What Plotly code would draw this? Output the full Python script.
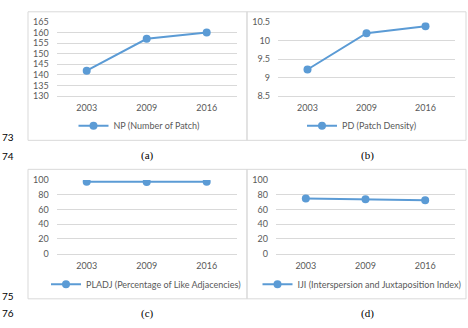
import plotly.graph_objects as go

W, H = 468, 328
years = ["2003", "2009", "2016"]
np_values = [142, 157, 160]
pd_values = [9.22, 10.2, 10.39]
pladj_values = [97.5, 97.4, 97.5]
iji_values = [74.7, 73.8, 72.6]

series_names = ["NP (Number of Patch)", "PD (Patch Density)",
                "PLADJ (Percentage of Like Adjacencies)",
                "IJI (Interspersion and Juxtaposition Index)"]
panel_labels = ["(a)", "(b)", "(c)", "(d)"]
line_numbers = ["73", "74", "75", "76"]

BLUE = "#5B9BD5"
GRID = "#D9D9D9"
TXT = "#595959"
FONT = "Lato, Liberation Sans, sans-serif"

def px(x):
    return x / W

def py(y):
    return 1 - y / H

fig = go.Figure()

panels = [
    (np_values, (56.7, 236.7), (93.3, 16.3), [130, 165], 5, (139, 124)),
    (pd_values, (278, 455), (93.3, 16.7), [8.5, 10.5], 0.5, (362, 124)),
    (pladj_values, (56.7, 236.7), (256.3, 180), [0, 100], 20, (146, 288)),
    (iji_values, (276, 455), (256.3, 180), [0, 100], 20, (362, 288)),
]

layout = {}
for i, (vals, xd, yd, yr, dt, lg) in enumerate(panels):
    n = i + 1
    xa = "x" if n == 1 else f"x{n}"
    ya = "y" if n == 1 else f"y{n}"
    lgname = "legend" if n == 1 else f"legend{n}"
    fig.add_trace(go.Scatter(
        x=years, y=vals, mode="lines+markers", name=series_names[i],
        xaxis=xa, yaxis=ya, legend=lgname,
        line=dict(color=BLUE, width=2),
        marker=dict(color=BLUE, size=8, symbol="circle"),
    ))
    layout[f"xaxis{'' if n == 1 else n}"] = dict(
        domain=[px(xd[0]), px(xd[1])], anchor=ya, type="category",
        range=[-0.5, 2.5], showgrid=False, showline=True, linecolor=GRID,
        linewidth=1, ticks="", tickfont=dict(family=FONT, size=9, color=TXT),
        ticklabelstandoff=3, zeroline=False, fixedrange=True,
    )
    layout[f"yaxis{'' if n == 1 else n}"] = dict(
        domain=[py(yd[0]), py(yd[1])], anchor=xa, range=yr, dtick=dt,
        showgrid=True, gridcolor=GRID, gridwidth=1, zeroline=False,
        showline=False, ticks="", tickfont=dict(family=FONT, size=9, color=TXT),
        ticklabelstandoff=7, fixedrange=True,
    )
    layout[lgname] = dict(
        x=px(lg[0]), y=py(lg[1]), xanchor="center", yanchor="middle",
        orientation="h", bgcolor="rgba(0,0,0,0)", itemwidth=30,
        font=dict(family=FONT, size=9, color=TXT),
    )

boxes = [(28, 6, 247, 139), (247, 6, 466, 139), (28, 169, 247, 303), (247, 169, 466, 303)]
shapes = []
for x0, y0, x1, y1 in boxes:
    shapes.append(dict(type="rect", xref="paper", yref="paper",
                       x0=px(x0), x1=px(x1), y0=py(y1), y1=py(y0),
                       line=dict(color=GRID, width=1), fillcolor="rgba(0,0,0,0)"))

annotations = []
for lab, (x, y) in zip(panel_labels, [(147.7, 155), (367, 155), (147.7, 318), (367, 318)]):
    annotations.append(dict(text=lab, x=px(x), y=py(y), xref="paper", yref="paper",
                            showarrow=False, xanchor="center", yanchor="middle",
                            font=dict(family="Liberation Serif, serif", size=11, color="#000")))
for lab, y in zip(line_numbers, [136, 155, 300, 318]):
    annotations.append(dict(text=lab, x=0, y=py(y), xref="paper", yref="paper",
                            showarrow=False, xanchor="left", yanchor="middle",
                            font=dict(family=FONT, size=10, color="#000")))

fig.update_layout(
    width=W, height=H, margin=dict(l=0, r=0, t=0, b=0),
    paper_bgcolor="white", plot_bgcolor="white",
    shapes=shapes, annotations=annotations, showlegend=True,
    **layout,
)

fig.write_html("out.html", config={"displayModeBar": False})
